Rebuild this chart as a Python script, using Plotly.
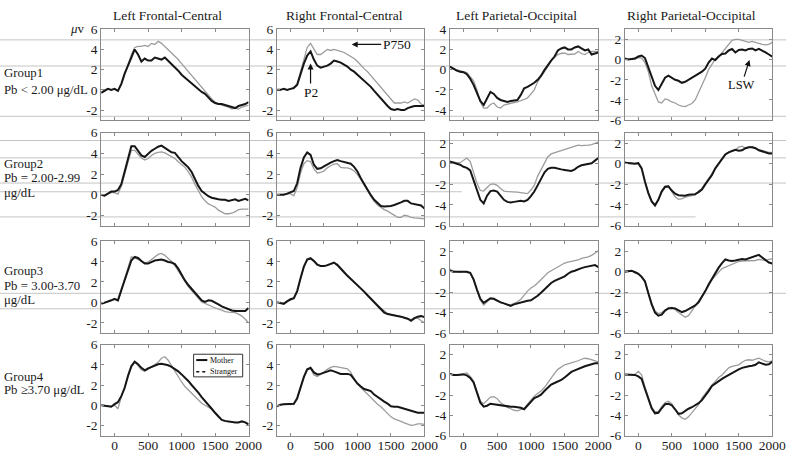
import plotly.graph_objects as go

# ---------------- data ----------------
TIME_MS = [-200, -150, -100, -50, 0, 50, 100, 150, 200, 250, 300, 350, 400, 450, 500,
           550, 600, 650, 700, 750, 800, 850, 900, 950, 1000, 1050, 1100, 1150, 1200,
           1250, 1300, 1350, 1400, 1450, 1500, 1550, 1600, 1650, 1700, 1750, 1800,
           1850, 1900, 1950, 2000]

REGIONS = ["Left Frontal-Central", "Right Frontal-Central",
           "Left Parietal-Occipital", "Right Parietal-Occipital"]
GROUP_LINES = [["Group1", "Pb &lt; 2.00 μg/dL"],
               ["Group2", "Pb = 2.00-2.99", "μg/dL"],
               ["Group3", "Pb = 3.00-3.70", "μg/dL"],
               ["Group4", "Pb ≥3.70 μg/dL"]]
SERIES_NAMES = ["Mother", "Stranger"]
X_TICKS = [0, 500, 1000, 1500, 2000]
X_TICK_TEXT = ["0", "500", "1000", "1500", "2000"]
Y_TICKS_FC = [-2, 0, 2, 4, 6]
Y_TICK_TEXT_FC = ["-2", "0", "2", "4", "6"]
Y_TICKS_PO1 = [-4, -2, 0, 2, 4]
Y_TICK_TEXT_PO1 = ["-4", "-2", "0", "2", "4"]
Y_TICKS_PO = [-6, -4, -2, 0, 2]
Y_TICK_TEXT_PO = ["-6", "-4", "-2", "0", "2"]

# Group 1
G1_LFC_M = [-0.3, -0.1, 0.1, 0.0, 0.1, -0.1, 0.6, 1.6, 2.5, 3.2, 4.0, 3.5, 2.8, 3.1, 2.9, 2.9, 3.2, 3.1, 3.0, 3.2, 2.9, 2.5, 2.2, 1.9, 1.5, 1.2, 0.9, 0.7, 0.3, 0.0, -0.2, -0.4, -0.8, -1.1, -1.3, -1.4, -1.4, -1.5, -1.6, -1.7, -1.8, -1.6, -1.5, -1.4, -1.2]
G1_LFC_S = [-0.3, 0.0, 0.1, 0.0, 0.1, -0.1, 0.5, 1.5, 2.6, 3.5, 4.2, 4.3, 4.3, 4.4, 4.3, 4.6, 4.5, 4.8, 4.6, 4.3, 4.0, 3.7, 3.3, 3.0, 2.6, 2.2, 1.8, 1.4, 1.0, 0.6, 0.3, -0.1, -0.5, -0.9, -1.2, -1.4, -1.5, -1.6, -1.7, -1.9, -1.8, -1.9, -1.7, -1.6, -1.5]
G1_RFC_M = [0.0, 0.0, 0.1, 0.0, 0.1, 0.2, 0.5, 1.6, 2.6, 3.4, 3.8, 3.0, 2.4, 2.2, 2.3, 2.4, 2.6, 2.9, 2.8, 2.7, 2.5, 2.3, 2.0, 1.8, 1.5, 1.2, 0.9, 0.6, 0.3, -0.1, -0.5, -0.9, -1.3, -1.6, -1.9, -2.0, -1.9, -2.0, -2.0, -1.8, -1.7, -1.6, -1.6, -1.6, -1.6]
G1_RFC_S = [0.0, 0.0, 0.1, 0.0, 0.1, 0.1, 0.6, 1.9, 3.2, 4.2, 4.6, 4.1, 3.5, 3.5, 3.8, 4.0, 3.9, 4.0, 3.9, 3.8, 3.7, 3.5, 3.3, 3.1, 2.8, 2.5, 2.1, 1.8, 1.4, 1.0, 0.6, 0.2, -0.2, -0.5, -0.9, -1.3, -1.3, -1.3, -1.2, -1.3, -1.1, -0.9, -1.0, -1.4, -1.5]
G1_LPO_M = [0.3, 0.1, -0.1, -0.2, -0.25, -0.45, -0.9, -1.5, -2.3, -3.1, -3.5, -2.8, -2.2, -2.4, -2.8, -3.0, -3.1, -3.2, -3.1, -3.05, -3.0, -2.5, -1.85, -1.7, -1.5, -1.3, -1.0, -0.6, -0.05, 0.45, 0.9, 1.3, 1.9, 2.1, 2.2, 2.0, 2.0, 2.2, 2.3, 2.1, 1.9, 2.0, 1.5, 1.6, 1.7]
G1_LPO_S = [0.3, 0.1, 0.0, -0.1, -0.2, -0.3, -0.7, -1.1, -2.0, -3.2, -3.8, -3.8, -3.45, -3.3, -3.7, -3.8, -3.5, -3.4, -3.3, -3.25, -3.2, -3.1, -2.95, -2.8, -2.4, -2.0, -1.2, -0.7, -0.3, 0.3, 0.9, 1.25, 1.5, 1.6, 1.65, 1.5, 1.5, 1.55, 1.8, 1.6, 1.5, 1.7, 1.8, 1.8, 1.8]
G1_RPO_M = [0.1, 0.0, 0.05, 0.1, 0.3, 0.4, 0.15, -0.8, -1.8, -2.6, -3.0, -2.4, -1.8, -1.6, -1.8, -2.0, -2.1, -2.3, -2.2, -2.0, -1.8, -1.6, -1.45, -1.2, -0.9, -0.3, 0.1, -0.05, 0.3, 0.55, 0.6, 0.9, 1.05, 0.7, 0.95, 1.0, 0.9, 1.05, 1.1, 0.9, 1.05, 0.9, 0.7, 0.5, 0.3]
G1_RPO_S = [0.0, 0.0, 0.05, 0.05, 0.2, 0.15, -0.3, -1.2, -2.6, -3.5, -4.2, -4.3, -3.9, -4.0, -4.2, -4.3, -4.5, -4.6, -4.65, -4.5, -4.35, -4.0, -3.3, -2.6, -1.8, -1.0, -0.4, 0.05, 0.25, 0.7, 1.1, 1.5, 1.9, 2.0, 2.0, 1.9, 1.75, 1.7, 1.8, 1.7, 1.55, 1.5, 1.45, 1.5, 1.7]

# Group 2
G2_LFC_M = [0.0, -0.1, 0.1, 0.3, 0.3, 0.45, 1.0, 2.2, 3.6, 4.7, 4.7, 4.2, 3.8, 3.65, 4.0, 4.25, 4.45, 4.65, 4.75, 4.55, 4.3, 4.1, 4.05, 3.6, 3.25, 2.95, 2.65, 2.2, 1.5, 0.85, 0.35, 0.1, -0.15, -0.3, -0.4, -0.45, -0.5, -0.5, -0.6, -0.5, -0.45, -0.6, -0.5, -0.4, -0.55]
G2_LFC_S = [0.0, -0.1, 0.1, 0.2, 0.2, 0.05, 0.8, 1.9, 3.2, 4.3, 4.3, 3.9, 3.55, 3.35, 3.5, 3.8, 4.0, 4.1, 4.15, 4.05, 3.85, 3.65, 3.5, 3.2, 2.9, 2.65, 2.2, 1.7, 1.0, 0.4, -0.2, -0.6, -0.9, -1.05, -1.2, -1.5, -1.7, -1.85, -1.85, -1.8, -1.65, -1.45, -1.4, -1.4, -1.4]
G2_RFC_M = [0.0, 0.0, 0.0, 0.1, 0.2, 0.35, 1.1, 2.6, 3.6, 4.1, 3.85, 2.9, 2.5, 2.55, 2.75, 2.95, 3.1, 3.25, 3.35, 3.25, 3.15, 3.1, 3.0, 2.7, 2.25, 1.6, 1.0, 0.5, -0.05, -0.5, -0.85, -1.1, -1.15, -1.15, -1.1, -1.0, -0.9, -0.75, -0.6, -0.6, -0.85, -0.9, -0.95, -1.05, -1.35]
G2_RFC_S = [0.0, 0.0, 0.0, 0.05, 0.1, -0.1, 0.7, 2.1, 3.0, 3.3, 3.2, 2.5, 2.1, 2.15, 2.3, 2.6, 2.8, 2.95, 3.0, 2.65, 2.6, 2.6, 2.5, 2.3, 1.95, 1.5, 0.9, 0.35, -0.2, -0.65, -1.0, -1.25, -1.45, -1.6, -1.8, -2.05, -2.2, -2.2, -2.0, -2.05, -2.2, -2.25, -2.3, -2.3, -2.35]
G2_LPO_M = [0.2, 0.1, 0.0, -0.1, -0.3, -0.4, -0.65, -1.6, -2.7, -3.5, -3.85, -3.1, -2.65, -2.6, -2.7, -3.15, -3.5, -3.7, -3.75, -3.7, -3.65, -3.6, -3.65, -3.5, -3.15, -2.7, -2.1, -1.5, -0.85, -0.5, -0.4, -0.4, -0.5, -0.55, -0.6, -0.65, -0.7, -0.55, -0.3, -0.15, -0.1, -0.05, 0.05, 0.3, 0.55]
G2_LPO_S = [0.25, 0.15, 0.1, 0.1, 0.3, 0.55, 0.2, -0.75, -1.9, -2.6, -2.65, -2.3, -2.0, -1.95, -2.1, -2.4, -2.65, -2.7, -2.7, -2.7, -2.75, -2.8, -2.85, -2.9, -2.55, -2.1, -1.2, -0.55, 0.1, 0.65, 0.95, 1.05, 1.15, 1.25, 1.35, 1.45, 1.55, 1.65, 1.8, 1.75, 1.75, 1.8, 1.85, 1.95, 2.1]
G2_RPO_M = [0.1, 0.05, 0.0, 0.0, 0.05, -0.45, -1.75, -2.85, -3.65, -4.05, -3.5, -2.7, -2.25, -2.2, -2.6, -2.9, -3.05, -3.1, -3.1, -3.0, -2.95, -2.95, -2.75, -2.5, -2.0, -1.6, -1.1, -0.45, 0.0, 0.45, 0.9, 1.1, 1.25, 1.35, 1.25, 1.3, 1.5, 1.6, 1.6, 1.5, 1.3, 1.2, 1.1, 1.0, 1.0]
G2_RPO_S = [0.15, 0.1, 0.0, 0.0, 0.1, -0.4, -1.7, -2.8, -3.6, -3.95, -3.45, -2.6, -2.15, -2.15, -2.7, -3.2, -3.45, -3.4, -3.25, -3.15, -3.1, -3.05, -2.65, -2.4, -1.9, -1.5, -1.0, -0.45, 0.0, 0.5, 0.95, 1.15, 1.3, 1.35, 1.6, 1.7, 1.5, 1.6, 1.65, 1.5, 1.35, 1.3, 1.2, 1.1, 1.1]

# Group 3
G3_LFC_M = [-0.15, -0.05, 0.05, 0.2, 0.35, 0.2, 1.2, 2.2, 3.2, 4.1, 4.45, 4.35, 4.05, 3.8, 3.8, 3.95, 4.1, 4.15, 4.2, 4.1, 3.95, 3.9, 3.75, 3.3, 2.7, 2.15, 1.7, 1.3, 0.9, 0.6, 0.2, 0.05, 0.2, 0.15, 0.0, -0.2, -0.4, -0.55, -0.65, -0.8, -0.85, -0.85, -0.85, -0.85, -0.55]
G3_LFC_S = [0.0, -0.05, 0.05, 0.15, 0.3, 0.15, 1.1, 2.3, 3.4, 4.45, 4.35, 4.2, 4.05, 3.9, 3.95, 4.2, 4.45, 4.7, 4.8, 4.6, 4.3, 4.0, 3.6, 3.1, 2.5, 2.0, 1.55, 1.15, 0.75, 0.4, 0.05, -0.1, -0.25, -0.45, -0.55, -0.65, -0.8, -0.9, -0.95, -0.95, -1.0, -1.15, -1.35, -1.65, -2.0]
G3_RFC_M = [0.0, -0.05, -0.15, 0.1, 0.3, 0.4, 1.1, 2.35, 3.5, 4.2, 4.3, 4.05, 3.7, 3.55, 3.55, 3.65, 3.75, 3.9, 3.65, 3.25, 2.95, 2.6, 2.3, 1.95, 1.65, 1.35, 1.05, 0.7, 0.35, 0.05, -0.25, -0.65, -1.0, -1.15, -1.2, -1.25, -1.3, -1.4, -1.5, -1.6, -1.8, -1.55, -1.4, -1.35, -1.45]
G3_RFC_S = [0.05, 0.0, -0.05, 0.1, 0.25, 0.35, 1.0, 2.3, 3.5, 4.25, 4.4, 4.1, 3.75, 3.6, 3.55, 3.6, 3.7, 3.85, 3.75, 3.35, 3.0, 2.65, 2.35, 2.0, 1.7, 1.35, 1.0, 0.65, 0.3, 0.0, -0.3, -0.6, -0.9, -1.1, -1.2, -1.3, -1.35, -1.4, -1.5, -1.65, -1.7, -1.6, -1.55, -1.8, -2.0]
G3_LPO_M = [0.1, 0.0, 0.0, 0.0, 0.0, 0.0, -0.1, -0.75, -1.75, -2.65, -3.05, -2.85, -2.6, -2.65, -2.85, -3.0, -3.1, -3.25, -3.35, -3.2, -3.1, -3.05, -2.95, -2.85, -2.8, -2.6, -2.35, -2.05, -1.7, -1.35, -1.1, -0.9, -0.75, -0.65, -0.45, -0.2, 0.0, 0.1, 0.25, 0.35, 0.45, 0.5, 0.6, 0.65, 0.45]
G3_LPO_S = [0.25, 0.05, 0.0, -0.05, 0.0, -0.05, -0.15, -0.8, -1.85, -2.8, -3.25, -2.9, -2.65, -2.7, -2.85, -3.0, -3.1, -3.2, -3.25, -3.1, -2.95, -2.7, -2.25, -1.9, -1.6, -1.4, -1.1, -0.8, -0.45, -0.1, 0.1, 0.25, 0.5, 0.7, 0.85, 0.95, 1.0, 1.05, 1.15, 1.3, 1.35, 1.45, 1.6, 1.85, 2.05]
G3_RPO_M = [0.0, 0.05, 0.1, -0.05, -0.2, -0.5, -0.95, -2.1, -3.2, -4.0, -4.3, -4.2, -3.8, -3.6, -3.55, -3.6, -3.8, -3.95, -3.85, -3.65, -3.45, -3.3, -3.0, -2.5, -1.9, -1.25, -0.65, -0.1, 0.4, 0.85, 1.2, 1.1, 1.05, 1.1, 1.2, 1.25, 1.2, 1.3, 1.45, 1.55, 1.65, 1.4, 1.15, 0.9, 0.8]
G3_RPO_S = [0.05, 0.1, 0.1, 0.0, -0.15, -0.45, -0.9, -2.0, -3.1, -3.85, -4.1, -4.0, -3.75, -3.55, -3.5, -3.7, -4.0, -4.25, -4.45, -4.3, -3.8, -3.35, -2.9, -2.4, -1.95, -1.3, -0.8, -0.4, 0.0, 0.3, 0.45, 0.6, 0.75, 0.9, 1.0, 1.05, 1.05, 1.1, 1.1, 1.1, 1.2, 1.15, 1.1, 1.2, 1.25]

# Group 4
G4_LFC_M = [0.0, -0.05, -0.1, -0.15, 0.1, 0.3, 0.9, 1.7, 2.9, 3.85, 4.3, 4.05, 3.7, 3.45, 3.65, 3.8, 3.9, 4.05, 4.1, 4.05, 3.95, 3.8, 3.6, 3.35, 3.05, 2.75, 2.4, 2.0, 1.65, 1.25, 0.8, 0.45, 0.1, -0.35, -0.75, -1.1, -1.45, -1.55, -1.6, -1.7, -1.7, -1.7, -1.6, -1.7, -1.9]
G4_LFC_S = [0.0, -0.05, -0.1, -0.1, 0.0, -0.35, 0.8, 1.9, 2.9, 3.9, 4.25, 3.95, 3.5, 3.35, 3.55, 3.8, 4.0, 4.25, 4.65, 4.8, 4.45, 3.9, 3.35, 2.8, 2.3, 1.85, 1.5, 1.15, 0.8, 0.5, 0.2, 0.0, -0.2, -0.4, -0.8, -1.2, -1.45, -1.6, -1.65, -1.7, -1.7, -1.7, -1.65, -1.7, -1.85]
G4_RFC_M = [-0.1, 0.05, 0.1, 0.1, 0.1, 0.15, 0.7, 1.8, 2.8, 3.55, 3.7, 3.25, 3.05, 3.1, 3.2, 3.35, 3.45, 3.35, 3.2, 3.1, 3.1, 3.1, 3.0, 2.55, 2.15, 1.85, 1.6, 1.5, 1.4, 1.05, 0.8, 0.6, 0.35, 0.15, -0.1, -0.15, -0.15, -0.25, -0.35, -0.45, -0.6, -0.7, -0.75, -0.75, -0.75]
G4_RFC_S = [-0.05, 0.05, 0.1, 0.1, 0.05, 0.1, 0.55, 1.65, 2.7, 3.5, 3.65, 3.0, 2.85, 3.05, 3.35, 3.55, 3.75, 3.85, 3.8, 3.75, 3.7, 3.6, 3.25, 2.6, 2.1, 1.75, 1.4, 1.05, 0.75, 0.4, 0.1, -0.15, -0.45, -0.8, -1.15, -1.35, -1.45, -1.6, -1.75, -1.85, -2.0, -1.95, -1.85, -1.85, -1.9]
G4_LPO_M = [0.1, 0.0, 0.0, 0.05, 0.05, -0.05, -0.3, -0.75, -1.8, -2.75, -3.15, -3.05, -2.85, -2.9, -2.95, -3.05, -3.1, -3.15, -3.15, -3.15, -3.2, -3.25, -3.4, -3.05, -2.6, -2.3, -2.15, -1.95, -1.6, -1.25, -0.95, -0.8, -0.65, -0.5, -0.25, 0.05, 0.3, 0.45, 0.6, 0.75, 0.85, 0.95, 1.05, 1.15, 1.15]
G4_LPO_S = [0.1, 0.05, 0.0, 0.05, 0.15, 0.2, -0.15, -0.6, -1.65, -2.6, -2.85, -2.5, -2.2, -2.15, -2.35, -2.75, -3.0, -3.2, -3.35, -3.5, -3.55, -3.45, -3.3, -2.9, -2.45, -2.1, -1.85, -1.6, -1.25, -0.75, -0.3, 0.15, 0.55, 0.8, 1.0, 1.1, 1.2, 1.25, 1.4, 1.55, 1.65, 1.6, 1.5, 1.4, 1.3]
G4_RPO_M = [0.05, 0.05, 0.05, 0.0, -0.15, -0.4, -1.4, -2.4, -3.3, -3.8, -3.75, -3.3, -2.9, -2.85, -3.0, -3.4, -3.85, -3.8, -3.55, -3.35, -3.2, -3.0, -2.8, -2.5, -2.1, -1.6, -1.1, -0.85, -0.65, -0.4, -0.2, 0.0, 0.2, 0.4, 0.55, 0.7, 0.8, 0.85, 0.9, 1.0, 1.25, 1.15, 1.0, 1.05, 1.3]
G4_RPO_S = [0.0, 0.05, 0.0, 0.05, 0.35, 0.0, -1.2, -2.3, -3.2, -3.65, -3.6, -3.15, -2.75, -2.6, -2.85, -3.45, -3.95, -4.25, -4.4, -4.15, -3.75, -3.3, -2.95, -2.3, -1.85, -1.35, -1.0, -0.65, -0.25, 0.0, 0.35, 0.7, 0.85, 0.95, 1.0, 1.25, 1.45, 1.5, 1.45, 1.55, 1.65, 1.5, 1.35, 1.3, 1.4]

PANELS = [
    [(G1_LFC_M, G1_LFC_S), (G1_RFC_M, G1_RFC_S), (G1_LPO_M, G1_LPO_S), (G1_RPO_M, G1_RPO_S)],
    [(G2_LFC_M, G2_LFC_S), (G2_RFC_M, G2_RFC_S), (G2_LPO_M, G2_LPO_S), (G2_RPO_M, G2_RPO_S)],
    [(G3_LFC_M, G3_LFC_S), (G3_RFC_M, G3_RFC_S), (G3_LPO_M, G3_LPO_S), (G3_RPO_M, G3_RPO_S)],
    [(G4_LFC_M, G4_LFC_S), (G4_RFC_M, G4_RFC_S), (G4_LPO_M, G4_LPO_S), (G4_RPO_M, G4_RPO_S)],
]
for row in PANELS:
    for m, s in row:
        if len(m) != len(TIME_MS) or len(s) != len(TIME_MS):
            raise ValueError(f"length mismatch {len(m)} {len(s)}")

# ---------------- layout geometry (pixels) ----------------
W, H = 800, 459
COL_PX = [(103, 253), (282, 432), (458, 609), (636, 786)]
ROW_PX = [(23, 117), (130, 226), (242, 337), (349, 443)]
TITLE_CX = [170, 351, 526, 704]
FONT = "Liberation Serif"
FRAME = "#8a8a8a"

def px_x(p):
    return p / W

def px_y(p):
    return 1 - p / H

fig = go.Figure()
layout = dict(
    width=W, height=H,
    margin=dict(l=0, r=0, t=0, b=0),
    paper_bgcolor="white", plot_bgcolor="rgba(0,0,0,0)",
    showlegend=False,
    font=dict(family=FONT, size=13, color="#1a1a1a"),
)

for r in range(4):
    for c in range(4):
        idx = r * 4 + c + 1
        sfx = "" if idx == 1 else str(idx)
        mother, stranger = PANELS[r][c]
        if c < 2:
            yr, yt, ytt = [-3, 6], Y_TICKS_FC, Y_TICK_TEXT_FC
        elif c == 2 and r == 0:
            yr, yt, ytt = [-5, 4], Y_TICKS_PO1, Y_TICK_TEXT_PO1
        else:
            yr, yt, ytt = [-6, 3], Y_TICKS_PO, Y_TICK_TEXT_PO
        fig.add_trace(go.Scatter(x=TIME_MS, y=stranger, mode="lines", name=SERIES_NAMES[1],
                                 line=dict(color="#9c9c9c", width=1.3),
                                 xaxis="x" + sfx, yaxis="y" + sfx))
        fig.add_trace(go.Scatter(x=TIME_MS, y=mother, mode="lines", name=SERIES_NAMES[0],
                                 line=dict(color="#161616", width=2),
                                 xaxis="x" + sfx, yaxis="y" + sfx))
        x0, x1 = COL_PX[c]
        y0, y1 = ROW_PX[r]
        layout["xaxis" + sfx] = dict(
            domain=[px_x(x0), px_x(x1)], range=[-200, 2000], anchor="y" + sfx,
            tickmode="array", tickvals=X_TICKS, ticktext=X_TICK_TEXT,
            showticklabels=(r == 3), ticks="inside", ticklen=3, tickcolor=FRAME,
            ticklabelstandoff=-3,
            showline=True, linecolor=FRAME, linewidth=1, mirror="ticks",
            showgrid=False, zeroline=False,
            tickfont=dict(family=FONT, size=13.5, color="#1a1a1a"),
        )
        layout["yaxis" + sfx] = dict(
            domain=[px_y(y1), px_y(y0)], range=yr, anchor="x" + sfx,
            tickmode="array", tickvals=yt, ticktext=ytt,
            ticks="inside", ticklen=3, tickcolor=FRAME,
            showline=True, linecolor=FRAME, linewidth=1, mirror="ticks",
            showgrid=False, zeroline=False,
            tickfont=dict(family=FONT, size=13.5, color="#1a1a1a"),
        )

annotations = []
for c, title in enumerate(REGIONS):
    annotations.append(dict(text=title, x=px_x(TITLE_CX[c]), y=px_y(9), xref="paper", yref="paper",
                            showarrow=False, xanchor="center", yanchor="middle",
                            font=dict(family=FONT, size=13.5, color="#1a1a1a")))

ROW_TEXT_Y = [[68, 86], [162, 177, 192], [273, 288, 303], [382, 396]]
for r, lines in enumerate(GROUP_LINES):
    for k, line in enumerate(lines):
        annotations.append(dict(text=line, x=px_x(2), y=px_y(ROW_TEXT_Y[r][k]), xref="paper", yref="paper",
                                showarrow=False, xanchor="left", yanchor="middle",
                                font=dict(family=FONT, size=12.8, color="#1a1a1a")))

annotations.append(dict(text="<i>μ</i>v", x=px_x(89), y=px_y(22), xref="paper", yref="paper",
                        showarrow=False, xanchor="right", yanchor="middle",
                        font=dict(family=FONT, size=13, color="#1a1a1a")))

# component labels
annotations.append(dict(text="P2", x=300, y=2.6, xref="x2", yref="y2", ax=0, ay=29,
                        showarrow=True, arrowhead=2, arrowsize=1, arrowwidth=1.2, arrowcolor="#111",
                        font=dict(family=FONT, size=13.5, color="#111")))
annotations.append(dict(text="P750", x=914, y=4.5, xref="x2", yref="y2", ax=45, ay=0,
                        showarrow=True, arrowhead=2, arrowsize=1, arrowwidth=1.2, arrowcolor="#111",
                        font=dict(family=FONT, size=13.5, color="#111")))
annotations.append(dict(text="LSW", x=1660, y=-0.05, xref="x4", yref="y4", ax=-8, ay=25,
                        showarrow=True, arrowhead=2, arrowsize=1, arrowwidth=1.2, arrowcolor="#111",
                        font=dict(family=FONT, size=12.5, color="#111")))

# legend box in the Group4 / Left Frontal-Central panel
annotations.append(dict(text=SERIES_NAMES[0], x=0.725, y=0.83, xref="x13 domain", yref="y13 domain",
                        showarrow=False, xanchor="left", yanchor="middle",
                        font=dict(family=FONT, size=8, color="#111")))
annotations.append(dict(text=SERIES_NAMES[1], x=0.725, y=0.70, xref="x13 domain", yref="y13 domain",
                        showarrow=False, xanchor="left", yanchor="middle",
                        font=dict(family=FONT, size=8, color="#111")))

shapes = [
    dict(type="rect", x0=0.627, x1=0.96, y0=0.645, y1=0.894, xref="x13 domain", yref="y13 domain",
         line=dict(color="#333", width=1), fillcolor="white", layer="above"),
    dict(type="line", x0=0.645, x1=0.72, y0=0.83, y1=0.83, xref="x13 domain", yref="y13 domain",
         line=dict(color="#111", width=2), layer="above"),
    dict(type="line", x0=0.645, x1=0.72, y0=0.70, y1=0.70, xref="x13 domain", yref="y13 domain",
         line=dict(color="#111", width=1.5, dash="dot"), layer="above"),
]

# faint horizontal scan lines present in the source image
SCAN_LINES = [(34, 0, 800), (61, 0, 800), (113, 0, 800), (138, 0, 800), (156, 0, 800),
              (182, 0, 800), (191, 0, 470), (217, 0, 708), (296, 0, 800), (312, 0, 610)]
for yp, xa, xb in SCAN_LINES:
    shapes.append(dict(type="line", xref="paper", yref="paper", x0=px_x(xa), x1=px_x(xb),
                       y0=px_y(yp), y1=px_y(yp), line=dict(color="#c4c4c4", width=1), layer="below"))

layout["annotations"] = annotations
layout["shapes"] = shapes
fig.update_layout(**layout)
fig.write_html("out.html",
               config={"displayModeBar": False},
               post_script="document.body.style.margin='0';document.body.style.padding='0';"
                           "document.body.style.overflow='hidden';")
